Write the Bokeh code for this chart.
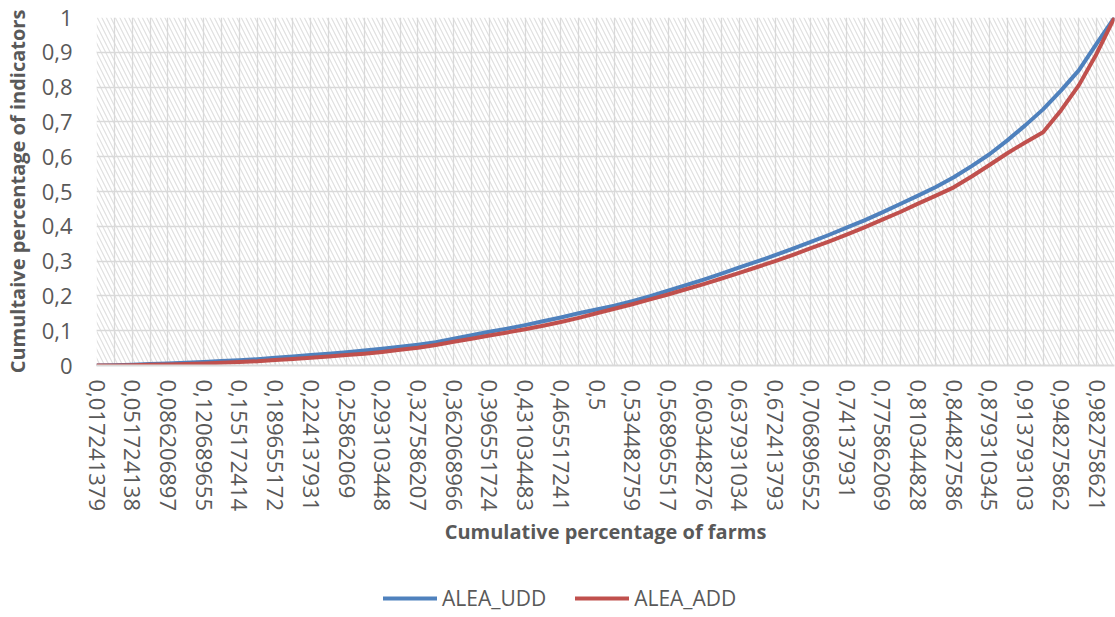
from bokeh.plotting import figure
from bokeh.layouts import column
from bokeh.models import Range1d, FixedTicker, Legend, LegendItem, BoxAnnotation
from bokeh.embed import file_html
from bokeh.resources import INLINE

# Cumulative share of farms (category labels, one per farm)
farm_share = [
    "0,017241379", "0,034482759", "0,051724138", "0,068965517", "0,086206897",
    "0,103448276", "0,120689655", "0,137931034", "0,155172414", "0,172413793",
    "0,189655172", "0,206896552", "0,224137931", "0,24137931", "0,25862069",
    "0,275862069", "0,293103448", "0,310344828", "0,327586207", "0,344827586",
    "0,362068966", "0,379310345", "0,396551724", "0,413793103", "0,431034483",
    "0,448275862", "0,465517241", "0,482758621", "0,5", "0,517241379",
    "0,534482759", "0,551724138", "0,568965517", "0,586206897", "0,603448276",
    "0,620689655", "0,637931034", "0,655172414", "0,672413793", "0,689655172",
    "0,706896552", "0,724137931", "0,74137931", "0,75862069", "0,775862069",
    "0,793103448", "0,810344828", "0,827586207", "0,844827586", "0,862068966",
    "0,879310345", "0,896551724", "0,913793103", "0,931034483", "0,948275862",
    "0,965517241", "0,982758621", "1",
]

# Cumulative share of the indicator, ALEA_UDD
alea_udd = [
    0.000, 0.001, 0.002, 0.004, 0.006, 0.008, 0.010, 0.013, 0.015, 0.018,
    0.022, 0.026, 0.030, 0.034, 0.038, 0.043, 0.048, 0.054, 0.060, 0.067,
    0.077, 0.087, 0.097, 0.106, 0.116, 0.127, 0.138, 0.150, 0.161, 0.172,
    0.185, 0.199, 0.215, 0.231, 0.247, 0.264, 0.282, 0.299, 0.317, 0.336,
    0.355, 0.375, 0.396, 0.417, 0.440, 0.464, 0.488, 0.513, 0.541, 0.573,
    0.607, 0.647, 0.690, 0.736, 0.790, 0.848, 0.925, 1.000,
]

# Cumulative share of the indicator, ALEA_ADD
alea_add = [
    0.000, 0.000, 0.001, 0.002, 0.003, 0.004, 0.006, 0.008, 0.010, 0.012,
    0.016, 0.019, 0.022, 0.026, 0.030, 0.034, 0.039, 0.045, 0.051, 0.059,
    0.068, 0.077, 0.086, 0.095, 0.104, 0.114, 0.125, 0.137, 0.150, 0.163,
    0.176, 0.190, 0.204, 0.219, 0.234, 0.250, 0.266, 0.283, 0.300, 0.318,
    0.337, 0.356, 0.376, 0.397, 0.419, 0.441, 0.465, 0.488, 0.512, 0.543,
    0.576, 0.610, 0.641, 0.670, 0.733, 0.805, 0.896, 1.000,
]

y_ticks = [0, 0.1, 0.2, 0.3, 0.4, 0.5, 0.6, 0.7, 0.8, 0.9, 1]
y_tick_labels = ["0", "0,1", "0,2", "0,3", "0,4", "0,5", "0,6", "0,7", "0,8", "0,9", "1"]

series_names = ["ALEA_UDD", "ALEA_ADD"]
series_values = [alea_udd, alea_add]
series_colors = ["#4f81bd", "#c0504d"]

TEXT = "#595959"
GRID = "#d9d9d9"
FONT = "Open Sans"
LEFT, RIGHT = 96, 1

idx = list(range(1, len(farm_share) + 1))
x_ticks = idx[::2]

p = figure(
    width=1115, height=575,
    x_range=Range1d(1, len(farm_share)), y_range=Range1d(0, 1),
    output_backend="svg", toolbar_location=None,
    min_border_left=LEFT, min_border_right=RIGHT, min_border_top=17, min_border_bottom=210,
    outline_line_color=None, background_fill_color="white",
)

# diagonal hatch over the plotting area
p.add_layout(BoxAnnotation(fill_alpha=0, line_alpha=0, hatch_pattern="\\",
                           hatch_color="#e0e0e0", hatch_scale=9, hatch_weight=1.2,
                           level="image"))

# x axis: one label every second farm
xa = p.xaxis[0]
xa.ticker = FixedTicker(ticks=x_ticks)
xa.major_label_overrides = {k: farm_share[k - 1] for k in x_ticks}
xa.major_label_orientation = "vertical"
xa.major_label_text_font = FONT
xa.major_label_text_font_size = "22px"
xa.major_label_text_color = TEXT
xa.major_label_standoff = 14
xa.major_tick_in = 0
xa.major_tick_out = 0
xa.major_tick_line_color = None
xa.minor_tick_line_color = None
xa.axis_line_color = GRID
xa.axis_line_width = 2
xa.axis_label = "Cumulative percentage of farms"
xa.axis_label_text_font = FONT
xa.axis_label_text_font_style = "bold"
xa.axis_label_text_font_size = "20px"
xa.axis_label_text_color = TEXT
xa.axis_label_standoff = 4

ya = p.yaxis[0]
ya.ticker = FixedTicker(ticks=y_ticks)
ya.major_label_overrides = dict(zip(y_ticks, y_tick_labels))
ya.major_label_text_font = FONT
ya.major_label_text_font_size = "22px"
ya.major_label_text_color = TEXT
ya.major_label_standoff = 24
ya.major_tick_in = 0
ya.major_tick_out = 0
ya.major_tick_line_color = None
ya.minor_tick_line_color = None
ya.axis_line_color = None
ya.axis_label = "Cumultaive percentage of indicators"
ya.axis_label_text_font = FONT
ya.axis_label_text_font_style = "bold"
ya.axis_label_text_font_size = "20px"
ya.axis_label_text_color = TEXT
ya.axis_label_standoff = 8

# gridlines: one vertical line per farm, one horizontal per tenth
p.xgrid[0].ticker = FixedTicker(ticks=idx)
p.ygrid[0].ticker = FixedTicker(ticks=y_ticks)
for g in (p.xgrid[0], p.ygrid[0]):
    g.grid_line_color = GRID
    g.grid_line_width = 1.3

for vals, color in zip(series_values, series_colors):
    p.line(idx, vals, line_color=color, line_width=4, line_join="round")

# legend strip under the chart; its series lie outside its visible range
leg = figure(
    width=1115, height=42, x_range=Range1d(-10, -9), y_range=Range1d(-10, -9),
    output_backend="svg", toolbar_location=None,
    x_axis_type=None, y_axis_type=None,
    min_border_left=LEFT, min_border_right=RIGHT, min_border_top=0, min_border_bottom=0,
    outline_line_color=None,
)
leg.grid.visible = False
items = []
for name, vals, color in zip(series_names, series_values, series_colors):
    r = leg.line(idx, vals, line_color=color, line_width=4, line_cap="round")
    items.append(LegendItem(label=name, renderers=[r]))

legend = Legend(
    items=items, orientation="horizontal", location=(383 - LEFT, 5),
    padding=0, margin=0, spacing=29, label_standoff=5,
    glyph_width=54, glyph_height=20, label_height=20,
    label_text_font=FONT, label_text_font_size="21px", label_text_color=TEXT,
    border_line_alpha=0, background_fill_alpha=0,
)
leg.add_layout(legend, "center")

open("out.html", "w").write(file_html(column(p, leg, spacing=0), INLINE))
